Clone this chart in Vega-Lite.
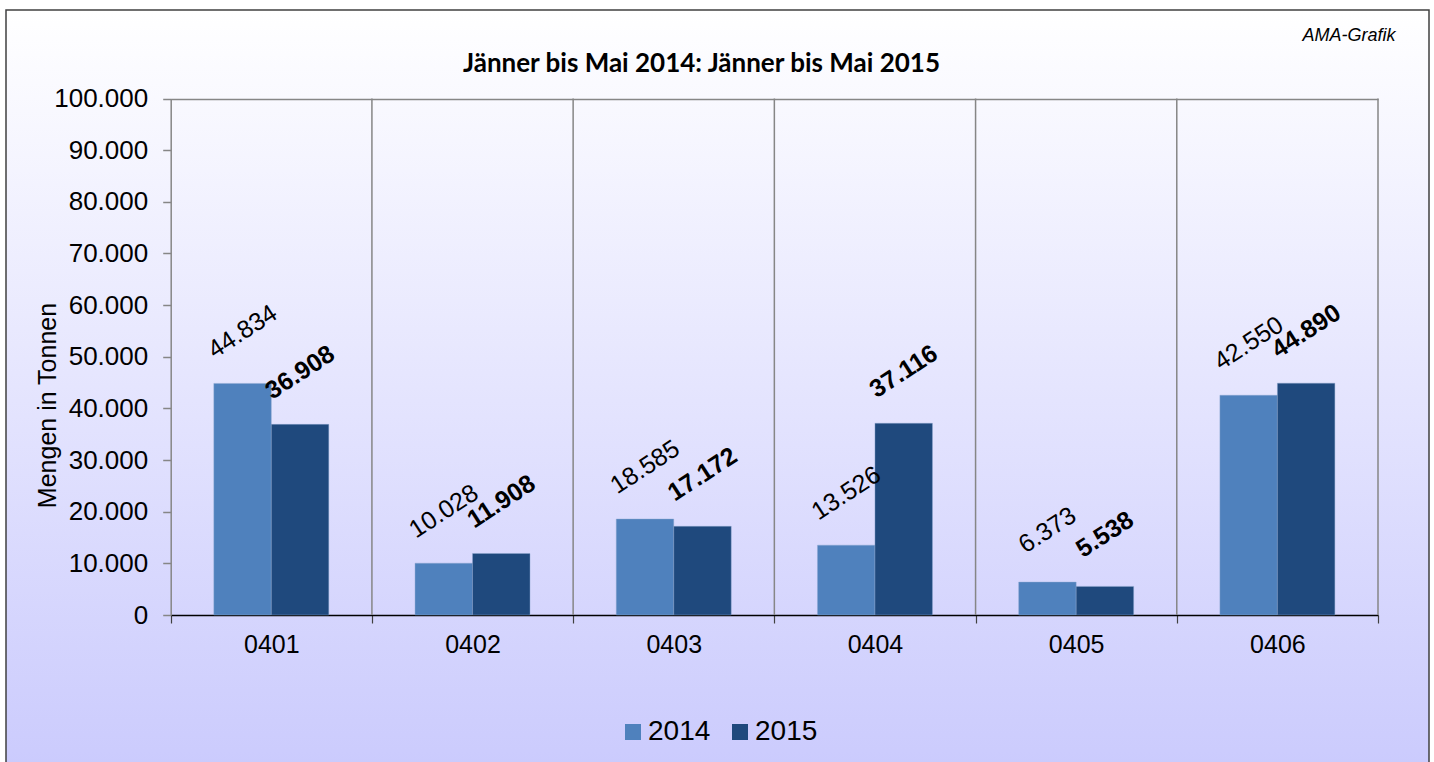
{
  "$schema": "https://vega.github.io/schema/vega-lite/v6.json",
  "autosize": {"type": "none"},
  "padding": {"left": 6, "top": 10, "right": 5, "bottom": -2},
  "width": 1423,
  "height": 754,
  "background": "white",
  "title": {
    "text": "Jänner bis Mai 2014: Jänner bis Mai 2015",
    "font": "Lato",
    "fontSize": 26,
    "fontWeight": "bold",
    "color": "#000000",
    "anchor": "middle",
    "baseline": "alphabetic",
    "offset": -88,
    "dx": -16
  },
  "data": {
    "values": [
      {"code": "0401", "year": "2014", "value": 44834},
      {"code": "0401", "year": "2015", "value": 36908},
      {"code": "0402", "year": "2014", "value": 10028},
      {"code": "0402", "year": "2015", "value": 11908},
      {"code": "0403", "year": "2014", "value": 18585},
      {"code": "0403", "year": "2015", "value": 17172},
      {"code": "0404", "year": "2014", "value": 13526},
      {"code": "0404", "year": "2015", "value": 37116},
      {"code": "0405", "year": "2014", "value": 6373},
      {"code": "0405", "year": "2015", "value": 5538},
      {"code": "0406", "year": "2014", "value": 42550},
      {"code": "0406", "year": "2015", "value": 44890}
    ]
  },
  "encoding": {
    "x": {
      "field": "code",
      "type": "nominal",
      "scale": {"range": [164.7, 1372], "paddingInner": 0, "paddingOuter": 0},
      "axis": {
        "orient": "bottom",
        "offset": -149,
        "title": "AMA-Grafik",
        "titleFont": "Liberation Sans",
        "titleFontSize": 18,
        "titleFontStyle": "italic",
        "titleFontWeight": "normal",
        "titleColor": "#000000",
        "titleAlign": "right",
        "titleAnchor": null,
        "titleBaseline": "alphabetic",
        "titleX": 1389,
        "titleY": -575,
        "labelAngle": 0,
        "labelFont": "Liberation Sans",
        "labelFontSize": 25,
        "labelColor": "#000000",
        "labelPadding": 9,
        "tickBand": "extent",
        "tickSize": 8,
        "tickColor": "#404040",
        "tickWidth": 1.2,
        "domainColor": "#000000",
        "domainWidth": 1.5,
        "grid": false
      }
    },
    "y": {
      "field": "value",
      "type": "quantitative",
      "scale": {"domain": [0, 100000], "range": [605, 88.5], "nice": false},
      "axis": {
        "orient": "left",
        "offset": -164.7,
        "values": [0, 10000, 20000, 30000, 40000, 50000, 60000, 70000, 80000, 90000, 100000],
        "format": ",d",
        "title": "Mengen in Tonnen",
        "titleFont": "Liberation Sans",
        "titleFontSize": 25,
        "titleFontWeight": "normal",
        "titleColor": "#000000",
        "titlePadding": -7,
        "titleY": 395,
        "labelFont": "Liberation Sans",
        "labelFontSize": 26,
        "labelColor": "#000000",
        "labelPadding": 15,
        "tickSize": 8,
        "tickColor": "#868686",
        "tickWidth": 1.5,
        "domainColor": "#868686",
        "domainWidth": 1.5,
        "grid": true,
        "gridColor": "#868686",
        "gridWidth": 1.5,
        "gridOpacity": {"condition": {"test": "datum.value == 100000", "value": 1}, "value": 0}
      }
    }
  },
  "layer": [
    {
      "transform": [{"filter": "datum.year == '2014'"}],
      "mark": {"type": "rule", "color": "#868686", "strokeWidth": 1.5},
      "encoding": {
        "x": {"field": "code", "type": "nominal", "bandPosition": 1},
        "y": {"datum": 100000},
        "y2": {"datum": 0}
      }
    },
    {
      "mark": {"type": "bar", "stroke": "#8fa8d0", "strokeWidth": 0.6, "strokeOpacity": 0.7},
      "encoding": {
        "xOffset": {"field": "year", "type": "nominal", "scale": {"paddingInner": 0, "paddingOuter": 0.75}},
        "color": {
          "field": "year",
          "type": "nominal",
          "scale": {"domain": ["2014", "2015"], "range": ["#4F81BD", "#1F497D"]},
          "legend": {
            "orient": "none",
            "direction": "horizontal",
            "legendX": 613,
            "legendY": 708,
            "title": null,
            "padding": 0,
            "symbolType": "square",
            "symbolSize": 256,
            "symbolStrokeWidth": 0,
            "labelFont": "Liberation Sans",
            "labelFontSize": 28,
            "labelColor": "#000000",
            "labelOffset": 1,
            "columnPadding": 15
          }
        }
      }
    },
    {
      "transform": [{"filter": "datum.year == '2014'"}],
      "mark": {"type": "text", "font": "Liberation Sans", "fontSize": 25, "fontWeight": "normal", "color": "#000000", "angle": 327, "align": "center", "baseline": "middle", "dx": 28.3, "dy": -43.6},
      "encoding": {
        "xOffset": {"field": "year", "type": "nominal"},
        "text": {"field": "value", "type": "quantitative", "format": ",d"}
      }
    },
    {
      "transform": [{"filter": "datum.year == '2015'"}],
      "mark": {"type": "text", "font": "Liberation Sans", "fontSize": 25, "fontWeight": "bold", "color": "#000000", "angle": 327, "align": "center", "baseline": "middle", "dx": 28.3, "dy": -43.6},
      "encoding": {
        "xOffset": {"field": "year", "type": "nominal"},
        "text": {"field": "value", "type": "quantitative", "format": ",d"}
      }
    }
  ],
  "config": {
    "locale": {"number": {"decimal": ",", "thousands": ".", "grouping": [3], "currency": ["", " €"]}},
    "view": {
      "fill": {"gradient": "linear", "x1": 0, "y1": 0, "x2": 0, "y2": 1, "stops": [{"offset": 0, "color": "#ffffff"}, {"offset": 1, "color": "#cbcbfd"}]},
      "stroke": "#404040",
      "strokeWidth": 1.5
    }
  }
}
